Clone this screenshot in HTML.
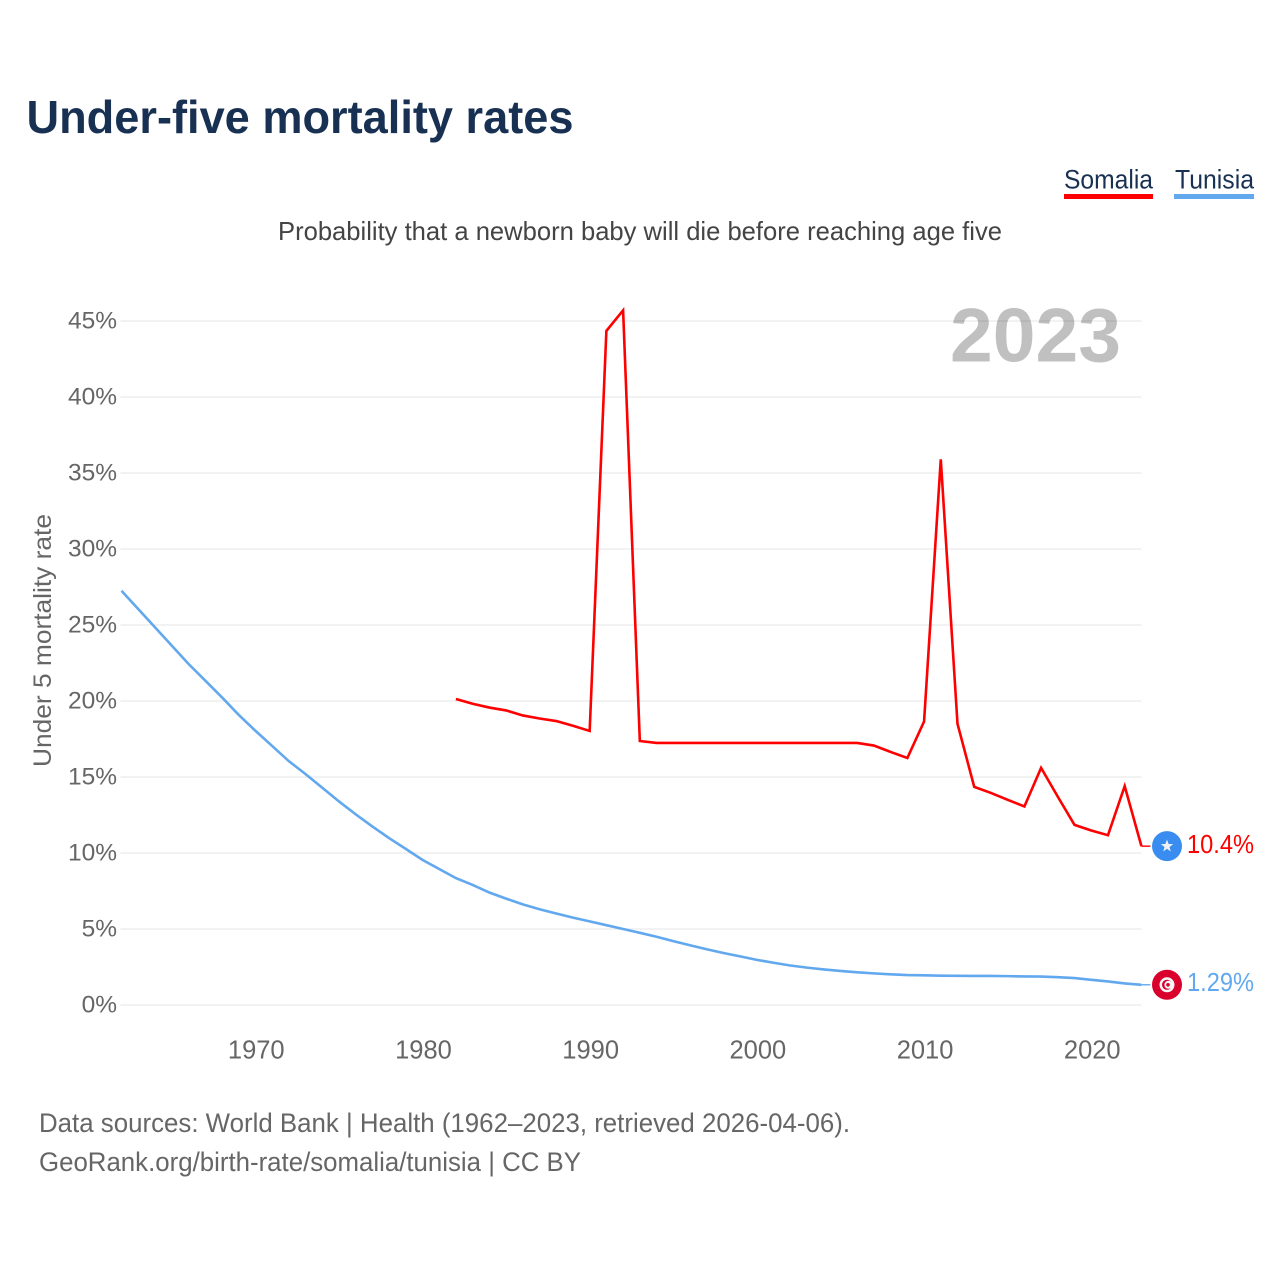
<!DOCTYPE html>
<html lang="en">
<head>
<meta charset="utf-8">
<title>Under-five mortality rates</title>
<style>
html,body{margin:0;padding:0;background:#fff;width:1280px;height:1280px;overflow:hidden}
svg{display:block;font-family:"Liberation Sans",sans-serif}
</style>
</head>
<body>
<svg id="chart" width="1280" height="1280" viewBox="0 0 1280 1280" xmlns="http://www.w3.org/2000/svg">
  <text x="26.5" y="133" font-size="46" font-weight="700" fill="#183153" textLength="547" lengthAdjust="spacingAndGlyphs">Under-five mortality rates</text>
  <g>
    <text x="1064" y="188.5" font-size="26.5" fill="#183153" textLength="89" lengthAdjust="spacingAndGlyphs">Somalia</text>
    <rect x="1064" y="194" width="89" height="5" fill="#ff0000"/>
  </g>
  <g>
    <text x="1175" y="188.5" font-size="26.5" fill="#183153" textLength="79" lengthAdjust="spacingAndGlyphs">Tunisia</text>
    <rect x="1174" y="194" width="80" height="5" fill="#62a8ee"/>
  </g>
  <text x="278" y="240" font-size="26" fill="#444444" textLength="724" lengthAdjust="spacingAndGlyphs">Probability that a newborn baby will die before reaching age five</text>
  <text x="950" y="361.5" font-size="76" font-weight="700" fill="#c0c0c0" textLength="171" lengthAdjust="spacingAndGlyphs">2023</text>
  <g id="grid"></g>
  <g id="yticks"></g>
  <g id="xticks"></g>
  <text transform="translate(51 767) rotate(-90)" x="0" y="0" font-size="25" fill="#666666" textLength="253" lengthAdjust="spacingAndGlyphs">Under 5 mortality rate</text>
  <g id="series"></g>
  <g id="ends"></g>
  <text x="39" y="1132" font-size="26.5" fill="#666666" textLength="811" lengthAdjust="spacingAndGlyphs">Data sources: World Bank | Health (1962–2023, retrieved 2026-04-06).</text>
  <text x="39" y="1171" font-size="26.5" fill="#666666" textLength="542" lengthAdjust="spacingAndGlyphs">GeoRank.org/birth-rate/somalia/tunisia | CC BY</text>
</svg>
<script>
const yTickValues = [0, 5, 10, 15, 20, 25, 30, 35, 40, 45];
const xTickYears = [1970, 1980, 1990, 2000, 2010, 2020];
const somaliaStartYear = 1982;
const somaliaValues = [20.13, 19.82, 19.57, 19.38, 19.05, 18.85, 18.68, 18.37, 18.03, 44.35, 45.7, 17.37, 17.24, 17.24, 17.24, 17.24, 17.24, 17.24, 17.24, 17.24, 17.24, 17.24, 17.24, 17.24, 17.24, 17.07, 16.65, 16.25, 18.65, 35.9, 18.5, 14.35, 13.95, 13.5, 13.06, 15.6, 13.7, 11.85, 11.48, 11.17, 14.4, 10.45];
const tunisiaStartYear = 1962;
const tunisiaValues = [27.25, 26.05, 24.85, 23.65, 22.45, 21.35, 20.25, 19.1, 18.05, 17.05, 16.05, 15.2, 14.3, 13.4, 12.55, 11.75, 10.98, 10.27, 9.55, 8.95, 8.35, 7.9, 7.4, 7.0, 6.62, 6.3, 6.02, 5.75, 5.5, 5.25, 5.0, 4.75, 4.49, 4.2, 3.93, 3.67, 3.42, 3.2, 2.97, 2.78, 2.6, 2.46, 2.34, 2.24, 2.15, 2.08, 2.02, 1.97, 1.95, 1.93, 1.92, 1.91, 1.91, 1.9, 1.88, 1.87, 1.83, 1.77, 1.66, 1.55, 1.42, 1.33];
const somaliaLabel = '10.4%';
const tunisiaLabel = '1.29%';

const SVG_NS = 'http://www.w3.org/2000/svg';
const x = function (year) { return 121.5 + (year - 1962) * 16.72; };
const y = function (value) { return 1005 - value * 15.2; };
const plotLeft = x(1962);
const plotRight = x(2023);

function make(tag, attrs, parent) {
  const el = document.createElementNS(SVG_NS, tag);
  for (const k in attrs) el.setAttribute(k, attrs[k]);
  parent.appendChild(el);
  return el;
}

const gridG = document.getElementById('grid');
const yG = document.getElementById('yticks');
yTickValues.forEach(function (v) {
  const line = make('line', { x1: plotLeft - 1, x2: plotRight, y1: y(v), y2: y(v), stroke: 'rgba(0,0,0,0.07)', 'stroke-width': 1.6 }, gridG);
  
  
  const t = make('text', { x: 117, y: y(v) + 7.5, 'font-size': 24.5, fill: '#666666', 'text-anchor': 'end' }, yG);
  
  
  t.textContent = v + '%';
});

const xG = document.getElementById('xticks');
xTickYears.forEach(function (yr) {
  const t = make('text', { x: x(yr) + 1, y: 1058.5, 'font-size': 25.5, fill: '#666666', 'text-anchor': 'middle' }, xG);
  
  
  t.textContent = yr;
});

function pathFor(startYear, values) {
  const pts = values.map(function (v, i) { return x(startYear + i).toFixed(2) + ',' + y(v).toFixed(2); });
  return 'M' + pts.join('L');
}

const sG = document.getElementById('series');
const tunisiaLine = make('path', { d: pathFor(tunisiaStartYear, tunisiaValues), fill: 'none', stroke: '#62a8ee', 'stroke-width': 2.6, 'stroke-linejoin': 'miter' }, sG);


const somaliaLine = make('path', { d: pathFor(somaliaStartYear, somaliaValues), fill: 'none', stroke: '#ff0000', 'stroke-width': 2.6, 'stroke-linejoin': 'miter' }, sG);



const eG = document.getElementById('ends');
const cx = 1167;
const sy = y(somaliaValues[somaliaValues.length - 1]);
const ty = y(tunisiaValues[tunisiaValues.length - 1]);

const somStub = make('line', { x1: plotRight, x2: plotRight + 9, y1: sy, y2: sy, stroke: '#ff0000', 'stroke-width': 1.4 }, eG);


const tunStub = make('line', { x1: plotRight, x2: plotRight + 9, y1: ty, y2: ty, stroke: '#62a8ee', 'stroke-width': 1.4 }, eG);



const somFlag = make('g', { transform: 'translate(' + cx + ' ' + sy + ')' }, eG);


make('circle', { r: 15, fill: '#3a8df0' }, somFlag);
make('polygon', { points: '0,-6.5 1.6,-2.1 6.2,-2 2.5,0.8 3.8,5.3 0,2.6 -3.8,5.3 -2.5,0.8 -6.2,-2 -1.6,-2.1', fill: '#f2f2f2' }, somFlag);

const tunFlag = make('g', { transform: 'translate(' + cx + ' ' + ty + ')' }, eG);


make('circle', { r: 15, fill: '#d9002e' }, tunFlag);
make('circle', { r: 7.5, fill: '#f6f6f6' }, tunFlag);
make('circle', { cx: 0, r: 5, fill: '#d9002e' }, tunFlag);
make('circle', { cx: 1.4, r: 4, fill: '#f6f6f6' }, tunFlag);
make('circle', { cx: 1, r: 1.8, fill: '#d9002e' }, tunFlag);

const somLabel = make('text', { x: 1187, y: sy + 6.8, 'font-size': 25.5, fill: '#ff0000', textLength: 67, lengthAdjust: 'spacingAndGlyphs' }, eG);


somLabel.textContent = somaliaLabel;

const tunLabel = make('text', { x: 1187, y: ty + 6, 'font-size': 25.5, fill: '#62a8ee', textLength: 67, lengthAdjust: 'spacingAndGlyphs' }, eG);


tunLabel.textContent = tunisiaLabel;
</script>
</body>
</html>
